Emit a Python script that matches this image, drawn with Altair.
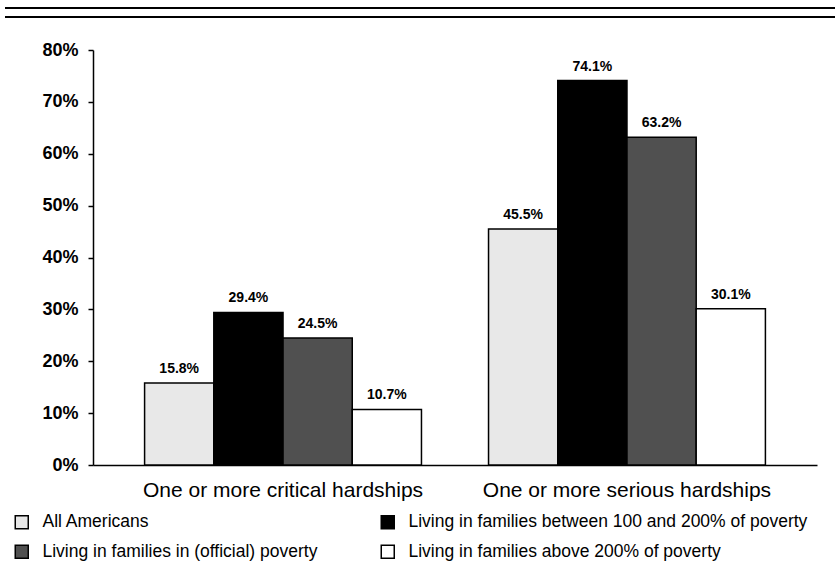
import altair as alt
import pandas as pd

FONT = "Liberation Sans"

categories = ["One or more critical hardships", "One or more serious hardships"]
groups = [
    "All Americans",
    "Living in families between 100 and 200% of poverty",
    "Living in families in (official) poverty",
    "Living in families above 200% of poverty",
]
critical = [15.8, 29.4, 24.5, 10.7]
serious = [45.5, 74.1, 63.2, 30.1]
colors = ["#e8e8e8", "#000000", "#505050", "#ffffff"]
legend_order = [groups[0], groups[2], groups[1], groups[3]]
legend_colors = [colors[0], colors[2], colors[1], colors[3]]
y_ticks = [0, 10, 20, 30, 40, 50, 60, 70, 80]

rows = []
for cat, vals in zip(categories, [critical, serious]):
    for g, v in zip(groups, vals):
        rows.append({"category": cat, "group": g, "value": v})
df = pd.DataFrame(rows)

x = alt.X(
    "category:N",
    sort=categories,
    scale=alt.Scale(domain=categories, paddingInner=0.195, paddingOuter=0.15),
    axis=alt.Axis(
        title=None, labelAngle=0, labelFont=FONT, labelFontSize=21,
        labelColor="black", domainColor="black", domainWidth=1.5,
        ticks=False, labelPadding=14, labelLimit=500,
    ),
)
xo = alt.XOffset("group:N", sort=groups,
                 scale=alt.Scale(domain=groups, paddingInner=0, paddingOuter=0))
y = alt.Y(
    "value:Q",
    scale=alt.Scale(domain=[0, 80], nice=False),
    axis=alt.Axis(
        values=y_ticks, labelExpr="datum.value + '%'", title=None, grid=False,
        labelFont=FONT, labelFontSize=18, labelFontWeight="bold",
        labelColor="black", domainColor="black", domainWidth=1.5,
        tickColor="black", tickSize=5, tickWidth=1.5, labelPadding=10,
    ),
)

base = alt.Chart(df).transform_calculate(
    label="format(datum.value, '.1f') + '%'"
).encode(x=x, xOffset=xo, y=y)

bars = base.mark_bar(stroke="black", strokeWidth=1.5).encode(
    color=alt.Color(
        "group:N",
        scale=alt.Scale(domain=legend_order, range=legend_colors),
        legend=alt.Legend(
            title=None, orient="none", legendX=-80, legendY=463,
            columns=2, columnPadding=60, rowPadding=10,
            labelFont=FONT, labelFontSize=17.5, labelColor="black",
            labelLimit=600, labelOffset=12,
            symbolType="square", symbolSize=169,
            symbolStrokeColor="black", symbolStrokeWidth=1.5,
        ),
    )
)

labels = base.mark_text(
    dy=-10, baseline="alphabetic", fontSize=14, fontWeight="bold",
    font=FONT, color="black",
).encode(text="label:N")

line1 = alt.Chart(df).mark_rule(color="black", strokeWidth=2.2).encode(
    x=alt.value(-88), x2=alt.value(742), y=alt.value(-42)
)
line2 = alt.Chart(df).mark_rule(color="black", strokeWidth=2.2).encode(
    x=alt.value(-88), x2=alt.value(742), y=alt.value(-33)
)

chart = alt.layer(bars, labels, line1, line2).properties(
    width=724,
    height=415,
    autosize=alt.AutoSizeParams(type="none"),
    padding={"left": 93, "top": 50, "right": 18, "bottom": 104},
    background="white",
).configure_view(stroke=None)

chart.save("out.html", embed_options={"renderer": "svg", "actions": False})
